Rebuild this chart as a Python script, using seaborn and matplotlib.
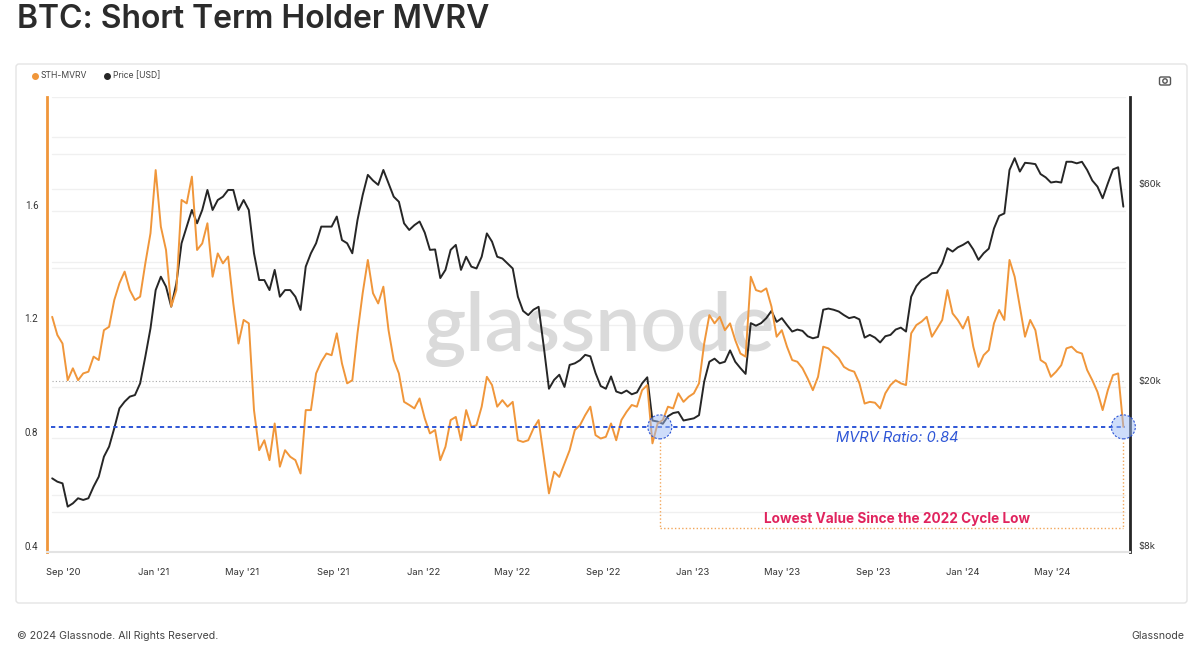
import pandas as pd
import matplotlib
matplotlib.use("Agg")
import matplotlib.pyplot as plt
import matplotlib.dates as mdates
import matplotlib.ticker as mticker
from matplotlib.patches import Circle, FancyBboxPatch
from matplotlib.lines import Line2D
from matplotlib.transforms import Affine2D, ScaledTranslation
import seaborn as sns

# weekly readings, first Monday 2020-08-17, last 2024-08-05
week_start = "2020-08-17"
n_weeks = 208

sth_mvrv = [
    1.227, 1.163, 1.133, 1.004, 1.046, 1.004, 1.028, 1.034, 1.087, 1.075,
    1.180, 1.192, 1.286, 1.345, 1.386, 1.321, 1.286, 1.298, 1.415, 1.521,
    1.743, 1.544, 1.462, 1.263, 1.321, 1.638, 1.626, 1.720, 1.462, 1.485,
    1.556, 1.368, 1.450, 1.415, 1.439, 1.274, 1.133, 1.216, 1.204, 0.899,
    0.758, 0.793, 0.723, 0.852, 0.700, 0.758, 0.735, 0.723, 0.676, 0.899,
    0.899, 1.028, 1.069, 1.098, 1.092, 1.169, 1.063, 0.993, 1.004, 1.169,
    1.310, 1.427, 1.310, 1.274, 1.333, 1.180, 1.075, 1.028, 0.928, 0.917,
    0.905, 0.940, 0.870, 0.817, 0.829, 0.723, 0.770, 0.864, 0.875, 0.793,
    0.899, 0.840, 0.846, 0.911, 1.016, 0.987, 0.911, 0.934, 0.911, 0.928,
    0.793, 0.787, 0.793, 0.834, 0.864, 0.735, 0.606, 0.682, 0.664, 0.711,
    0.758, 0.829, 0.846, 0.881, 0.911, 0.811, 0.799, 0.805, 0.852, 0.793,
    0.864, 0.893, 0.917, 0.911, 0.969, 0.987, 0.782, 0.852, 0.864, 0.911,
    0.905, 0.958, 0.928, 0.946, 0.958, 0.993, 1.133, 1.233, 1.204, 1.227,
    1.180, 1.204, 1.145, 1.098, 1.087, 1.368, 1.321, 1.315, 1.327, 1.263,
    1.157, 1.180, 1.122, 1.075, 1.069, 1.046, 1.010, 0.969, 1.016, 1.122,
    1.116, 1.098, 1.081, 1.051, 1.040, 1.034, 0.993, 0.922, 0.928, 0.925,
    0.905, 0.958, 0.987, 1.004, 0.993, 0.987, 1.169, 1.198, 1.210, 1.227,
    1.157, 1.186, 1.216, 1.321, 1.239, 1.216, 1.186, 1.227, 1.122, 1.051,
    1.092, 1.110, 1.204, 1.251, 1.216, 1.427, 1.368, 1.263, 1.157, 1.216,
    1.180, 1.075, 1.063, 1.016, 1.034, 1.057, 1.116, 1.122, 1.104, 1.098,
    1.040, 1.004, 0.963, 0.899, 0.969, 1.022, 1.028, 0.840,
]

price_usd = [
    12040, 11820, 11710, 10290, 10480, 10780, 10680, 10780, 11500, 12150,
    13580, 14360, 15900, 17760, 18430, 18950, 19120, 20400, 23660, 27690,
    34240, 36880, 34900, 31230, 35550, 44390, 48690, 53410, 49600, 53410,
    59690, 53410, 56450, 57500, 59690, 59690, 53410, 56450, 53410, 42000,
    36200, 36200, 34240, 38300, 33000, 34240, 34240, 33000, 30660, 39000,
    42000, 44400, 48700, 48700, 48700, 51500, 45200, 44400, 42000, 50500,
    58000, 64900, 62900, 61400, 66700, 61900, 57500, 55900, 49600, 47800,
    49100, 50100, 47100, 42800, 42900, 36600, 38300, 42800, 44000, 38300,
    41200, 39000, 38600, 41200, 46900, 44800, 41200, 40800, 39700, 38600,
    33000, 30500, 29800, 30700, 31200, 25000, 19800, 20800, 21400, 20000,
    22600, 22800, 23200, 23900, 23700, 21600, 20100, 19800, 21200, 19500,
    19300, 19600, 19200, 19400, 20400, 21100, 16600, 16500, 16300, 17000,
    17300, 17400, 16600, 16700, 16800, 17100, 20600, 23000, 23400, 22800,
    23000, 24500, 23000, 22200, 21500, 28500, 28100, 28500, 29300, 30500,
    28700, 29300, 28200, 27200, 27500, 27300, 26500, 26200, 26400, 30700,
    30900, 30700, 30400, 29800, 29300, 29500, 29100, 26300, 26700, 26300,
    25600, 26500, 26700, 27500, 27800, 27200, 33000, 35000, 36200, 36800,
    37600, 37700, 39700, 43200, 42400, 43400, 44000, 44800, 42900, 40500,
    42000, 43100, 48200, 51700, 52400, 66700, 71200, 66100, 69400, 69200,
    68900, 65200, 64000, 62200, 62500, 62200, 69800, 69800, 69200, 69800,
    66700, 62900, 60800, 57000, 61900, 66900, 67700, 54400,
]

left_ticks = [0.4, 0.8, 1.2, 1.6]
left_grid = [0.6, 0.8, 1.2, 1.4, 1.6, 1.8, 2.0]
right_ticks = [8000, 20000, 60000]
right_tick_labels = ["$8k", "$20k", "$60k"]
right_grid = [10000, 20000, 40000, 60000, 80000]
low_dates = ["2022-11-17", "2024-08-05"]
low_ratio = 0.84

ORANGE = "#f0963a"
BLACK = "#262626"
BLUE = "#2d55d6"
PINK = "#e0245e"
GRID = "#f0f0f0"

dates = pd.date_range(week_start, periods=n_weeks, freq="7D")
df = pd.DataFrame({"date": dates, "mvrv": sth_mvrv, "price": price_usd})

sns.set_theme(style="white")
plt.rcParams["font.family"] = ["Inter", "DejaVu Sans"]

W, H = 1200, 650
fig = plt.figure(figsize=(12, 6.5), dpi=100)
pix = Affine2D().scale(1 / 100) + fig.dpi_scale_trans   # pixel coords, origin bottom-left


def fxy(x, y):
    # figure fraction from pixel position measured from the top-left corner
    return x / W, 1 - y / H


# card behind the chart
card = FancyBboxPatch((16, H - 603), 1171, 539, boxstyle="round,pad=0,rounding_size=3",
                      transform=pix, fc="white", ec="#e4e4e4", lw=1, zorder=-5)
fig.add_artist(card)

ax = fig.add_axes([47 / W, 1 - 552 / H, 1083 / W, 455 / H])
ax2 = ax.twinx()
ax.set_zorder(ax2.get_zorder() + 1)
ax.patch.set_visible(False)

sns.lineplot(data=df, x="date", y="price", ax=ax2, color=BLACK, lw=1.4, zorder=3)
sns.lineplot(data=df, x="date", y="mvrv", ax=ax, color=ORANGE, lw=1.4, zorder=3)

ax.set_xlim(pd.Timestamp("2020-08-10"), pd.Timestamp("2024-08-14"))
ax.set_ylim(0.4, 2.0)
ax2.set_yscale("log")
ax2.set_ylim(8000, 100000)

# grid lines (kept on the lower axes so both series sit above them)
for v in left_grid:
    ax2.plot([0.005, 0.995], [v, v], transform=ax.get_yaxis_transform(), color=GRID, lw=1, zorder=0)
for v in right_grid:
    ax2.plot([0.005, 0.995], [v, v], transform=ax2.get_yaxis_transform(), color=GRID, lw=1, zorder=0)
ax2.plot([0.005, 0.995], [1.0, 1.0], transform=ax.get_yaxis_transform(), color="#a8a8a8",
         lw=0.8, ls=(0, (1, 2)), zorder=1)

ax2.text(0.51, 0.49, "glassnode", transform=ax2.transAxes, ha="center", va="center",
         fontsize=58, family=["Lato", "DejaVu Sans"], fontweight="semibold",
         color="#dadada", zorder=0)

# spines
for s in ["top", "right"]:
    ax.spines[s].set_visible(False)
ax.spines["left"].set_color(ORANGE)
ax.spines["left"].set_linewidth(2)
ax.spines["bottom"].set_color("#e3e3e3")
ax.spines["bottom"].set_linewidth(1.5)
for s in ["top", "left", "bottom"]:
    ax2.spines[s].set_visible(False)
ax2.spines["right"].set_color(BLACK)
ax2.spines["right"].set_linewidth(2)

# x axis
ax.xaxis.set_major_locator(mdates.MonthLocator(bymonth=[1, 5, 9]))
ax.xaxis.set_major_formatter(mdates.DateFormatter("%b '%y"))
ax.tick_params(axis="x", length=5, width=1, color="#e6e6e6", labelsize=6.8,
               labelcolor="#333333", pad=6.5)
ax2.tick_params(axis="x", length=0)
ax.set_xlabel("")
ax.set_ylabel("")
ax2.set_ylabel("")

# y tick labels drawn a few pixels above their grid lines
ax.yaxis.set_major_locator(mticker.NullLocator())
ax2.yaxis.set_major_locator(mticker.NullLocator())
ax2.yaxis.set_minor_locator(mticker.NullLocator())
up = ScaledTranslation(0, 5 / 100, fig.dpi_scale_trans)
for v in left_ticks:
    ax.text(-0.008, v, f"{v:.1f}", transform=ax.get_yaxis_transform() + up,
            ha="right", va="center", fontsize=7, color="#333333",
            family=["Roboto", "DejaVu Sans"])
for v, lab in zip(right_ticks, right_tick_labels):
    ax2.text(1.008, v, lab, transform=ax2.get_yaxis_transform() + up,
             ha="left", va="center", fontsize=6.8, color="#333333")

# annotations
ax.axhline(low_ratio, xmin=0.004, xmax=0.995, color=BLUE, lw=1.4, ls=(0, (2.2, 1.8)), zorder=4)
d0, d1 = pd.Timestamp(low_dates[0]), pd.Timestamp(low_dates[1])
box_kw = dict(color="#f2a65a", lw=1, ls=(0, (1, 1.6)), zorder=2)
ax.plot([d0, d0], [0.787, 0.484], **box_kw)
ax.plot([d1, d1], [0.787, 0.484], **box_kw)
ax.plot([d0, d1], [0.484, 0.484], **box_kw)
for d in (d0, d1):
    circ = Circle((0, 0), 0.12, transform=fig.dpi_scale_trans +
                  ScaledTranslation(mdates.date2num(d), low_ratio, ax.transData),
                  fc=(0.62, 0.74, 0.97, 0.5), ec=BLUE, lw=0.8, ls=(0, (2, 1.5)),
                  clip_on=False, zorder=5)
    ax.add_artist(circ)

ax.text(pd.Timestamp("2023-10-04"), 0.800, "MVRV Ratio: 0.84", color=BLUE, style="italic",
        fontsize=10.5, ha="center", va="center", zorder=6)
ax.text(pd.Timestamp("2023-10-04"), 0.516, "Lowest Value Since the 2022 Cycle Low", color=PINK,
        fontweight="bold", fontsize=9.8, ha="center", va="center", zorder=6)

# title, legend, footer
fig.text(*fxy(17, 20), "BTC: Short Term Holder MVRV", fontsize=23, fontweight="semibold",
         color="#2b2b2b", ha="left", va="center")

for x, col, lab in [(35, ORANGE, "STH-MVRV"), (107, BLACK, "Price [USD]")]:
    fig.add_artist(Line2D([x], [H - 76], marker="o", ms=4, color=col, transform=pix))
    fig.text(*fxy(x + 6, 76), lab, fontsize=6.2, color="#444444", ha="left", va="center")

# small camera icon
fig.add_artist(FancyBboxPatch((1159.5, H - 85), 11, 8, boxstyle="round,pad=0,rounding_size=1.5",
                              transform=pix, fc="none", ec="#555555", lw=1))
fig.add_artist(Circle((1165, H - 81), 2.2, transform=pix, fc="none", ec="#555555", lw=1))

fig.text(*fxy(17, 636), "\u00a9 2024 Glassnode. All Rights Reserved.", fontsize=7.6,
         color="#444444", ha="left", va="center")
fig.text(*fxy(1184, 636), "Glassnode", fontsize=7.6, color="#444444", ha="right", va="center")

fig.savefig("out.png", dpi=100, facecolor="white")
